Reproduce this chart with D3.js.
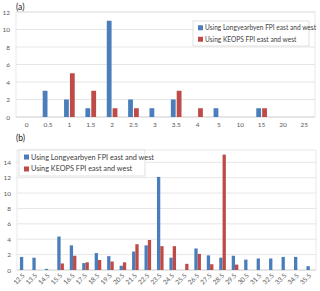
<!DOCTYPE html>
<html>
<head>
<meta charset="utf-8">
<script src="https://cdn.jsdelivr.net/npm/d3@7"></script>
<style>
  body { margin: 0; background: #fff; }
  svg { display: block; font-family: Lato, "Open Sans", sans-serif; }
</style>
</head>
<body>
<div id="chart"></div>
<script>
// panel (a)
const catsA = ["0","0.5","1","1.5","2","2.5","3","3.5","4","5","10","15","20","25"];
const longA = [0,3,2,1,11,2,1,2,0,1,0,1,0,0];
const keopsA = [0,0,5,3,1,1,0,3,1,0,0,1,0,0];
const ticksA = [0,2,4,6,8,10,12];

// panel (b)
const catsB = ["12.5","13.5","14.5","15.5","16.5","17.5","18.5","19.5","20.5","21.5","22.5","23.5",
  "24.5","25.5","26.5","27.5","28.5","29.5","30.5","31.5","32.5","33.5","34.5","35.5"];
const longB = [1.7,1.6,0.15,4.35,3.2,0.9,2.2,1.8,0.55,2.4,3.2,12.1,
  1.6,0,2.8,1.9,1.6,1.85,1.35,1.5,1.5,1.7,1.7,0.5];
const keopsB = [0,0,0,0.85,1.85,1.0,1.3,1.1,1.0,3.35,3.9,3.1,
  3.1,0.8,2.1,0.75,15,0.7,0,0,0,0,0,0];
const ticksB = [0,2,4,6,8,10,12,14];

const seriesNames = ["Using Longyearbyen FPI east and west", "Using KEOPS FPI east and west"];
const colors = ["#4a7ebb", "#be4b48"];

const svg = d3.select("#chart").append("svg")
  .attr("width", 320).attr("height", 291);

function panel(o) {
  const g = svg.append("g");
  const x = d3.scaleBand().domain(o.cats).range([o.left, o.right]);
  const y = d3.scaleLinear().domain([0, o.ymax]).range([o.bottom, o.top]);

  // plot border
  g.append("rect")
    .attr("x", o.left).attr("y", o.top)
    .attr("width", o.right - o.left).attr("height", o.bottom - o.top)
    .attr("fill", "none").attr("stroke", "#e3e3e3").attr("stroke-width", 0.8);

  // gridlines + y labels
  g.append("g").selectAll("line").data(o.ticks.filter(t => t > 0)).join("line")
    .attr("x1", o.left).attr("x2", o.right)
    .attr("y1", d => y(d)).attr("y2", d => y(d))
    .attr("stroke", "#e0e0e0").attr("stroke-width", 0.8);
  g.append("g").selectAll("text").data(o.ticks).join("text")
    .attr("x", o.left - 6).attr("y", d => y(d) + 2.5)
    .attr("text-anchor", "end")
    .attr("font-size", o.fs).attr("fill", "#595959")
    .text(d => d);

  // x axis line
  g.append("line")
    .attr("x1", o.left).attr("x2", o.right)
    .attr("y1", o.bottom).attr("y2", o.bottom)
    .attr("stroke", "#d0d0d0").attr("stroke-width", 0.8);

  const bw = x.bandwidth() * o.barFrac;
  const gap = x.bandwidth() * o.gapFrac;
  [o.s1, o.s2].forEach((vals, si) => {
    g.append("g").selectAll("rect").data(vals).join("rect")
      .attr("x", (d, i) => x(o.cats[i]) + x.bandwidth() / 2 + (si === 0 ? -bw - gap / 2 : gap / 2))
      .attr("y", d => y(d))
      .attr("width", bw)
      .attr("height", d => y(0) - y(d))
      .attr("fill", colors[si]);
  });

  // x labels
  const xl = g.append("g").selectAll("text").data(o.cats).join("text")
    .attr("font-size", o.fs).attr("fill", "#595959")
    .text(d => d);
  if (o.rotate) {
    xl.attr("text-anchor", "end")
      .attr("transform", d => `translate(${x(d) + x.bandwidth() / 2 + 2},${o.bottom + 6}) rotate(-45)`);
  } else {
    xl.attr("text-anchor", "middle")
      .attr("x", d => x(d) + x.bandwidth() / 2)
      .attr("y", o.bottom + 10);
  }

  // panel label
  svg.append("text").attr("x", 16).attr("y", o.labelY)
    .attr("font-size", 8.5).attr("fill", "#222").text(o.label);

  // legend
  const lg = g.append("g");
  lg.append("rect")
    .attr("x", o.leg.x).attr("y", o.leg.y).attr("width", o.leg.w).attr("height", o.leg.h)
    .attr("fill", "#fff").attr("stroke", "#d9d9d9").attr("stroke-width", 0.8);
  seriesNames.forEach((s, i) => {
    const ry = o.leg.y + o.leg.h * (i === 0 ? 0.27 : 0.73);
    lg.append("rect").attr("x", o.leg.x + 5).attr("y", ry - 2.5)
      .attr("width", 5).attr("height", 5).attr("fill", colors[i]);
    lg.append("text").attr("x", o.leg.x + 12).attr("y", ry + 2.5)
      .attr("font-size", o.legFs).attr("fill", "#404040").text(s);
  });
}

panel({
  cats: catsA, s1: longA, s2: keopsA, ticks: ticksA, ymax: 12,
  left: 16, right: 315, top: 12, bottom: 117,
  barFrac: 0.225, gapFrac: 0.05, fs: 6.5, rotate: false,
  label: "(a)", labelY: 10,
  leg: {x: 193, y: 21, w: 116, h: 25}, legFs: 6.6
});

panel({
  cats: catsB, s1: longB, s2: keopsB, ticks: ticksB, ymax: 15.6,
  left: 17, right: 316, top: 150, bottom: 270,
  barFrac: 0.265, gapFrac: 0, fs: 6.5, rotate: true,
  label: "(b)", labelY: 141,
  leg: {x: 19, y: 150, w: 126, h: 26}, legFs: 7.3
});
</script>
</body>
</html>
